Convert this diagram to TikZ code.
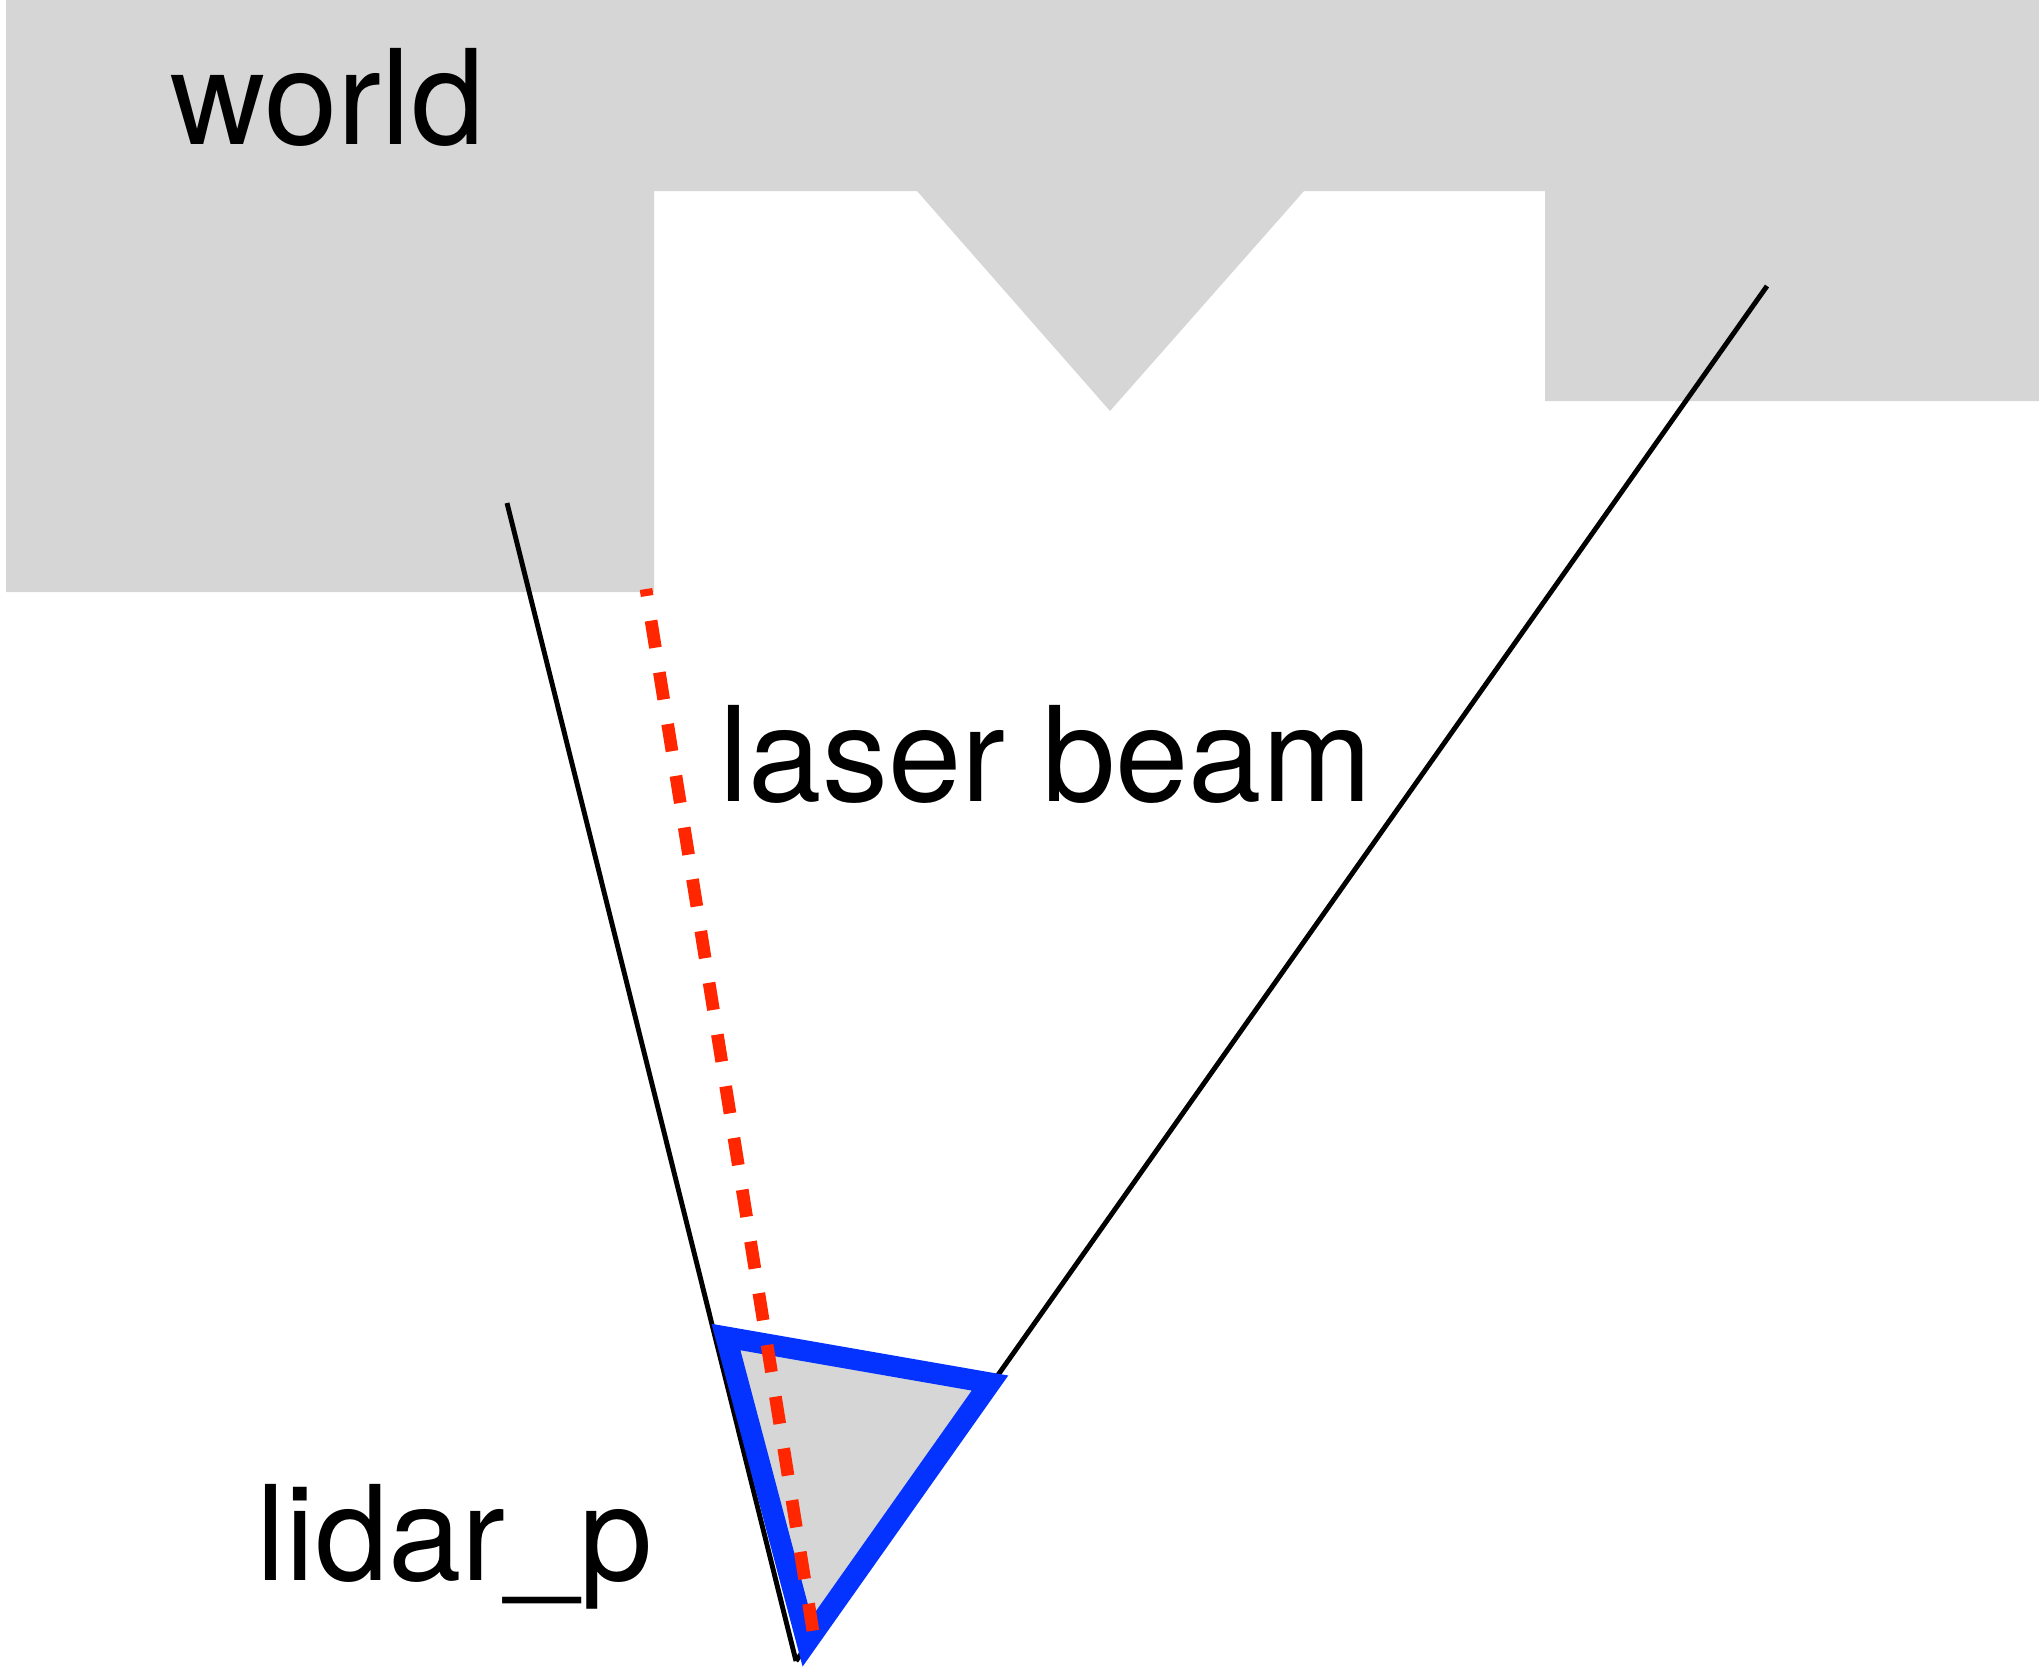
\documentclass[tikz,border=0pt]{standalone}
\usepackage{fontspec}
\setmainfont{TeX Gyre Heros}
\usetikzlibrary{positioning}
\definecolor{worldgray}{RGB}{214,214,214}
\definecolor{lidarblue}{RGB}{4,51,255}
\definecolor{beamred}{RGB}{255,38,0}

\begin{document}
\begin{tikzpicture}[x=0.01cm, y=-0.01cm,
    lbl/.style={inner sep=0pt, anchor=base west, font=\fontsize{37.5}{45}\selectfont},
    fov/.style={line width=1.4pt, draw=black},
    beam/.style={line width=3.6pt, draw=beamred, dash pattern=on 7.8pt off 7.1pt, dash phase=5.8pt},
    sensor/.style={line width=6pt, draw=lidarblue, fill=worldgray, line join=miter}
]
\useasboundingbox (0,0) rectangle (2039,1668);
% world outline
\fill[worldgray] (6,0) -- (2039,0) -- (2039,401) -- (1545,401) -- (1545,191)
    -- (1304,191) -- (1110,411) -- (917,191) -- (654,191) -- (654,592)
    -- (6,592) -- cycle;
\node[lbl] (world) at (170,144) {world};
\node[lbl] (beamlbl) at (719,801) {laser beam};
\node[lbl] (lidarlbl) at (256,1580) {lidar\_p};
% field of view
\coordinate (apex) at (796,1661);
\coordinate (fovL) at (507,503);
\coordinate (fovR) at (1767,286);
\draw[fov] (fovL) -- (apex);
\draw[fov] (fovR) -- (apex);
% sensor
\coordinate (sA) at (726,1337);
\coordinate (sB) at (990,1383);
\coordinate (sC) at (807,1642);
\draw[sensor] (sA) -- (sB) -- (sC) -- cycle;
% beam
\coordinate (hit) at (646,589);
\coordinate (src) at (816,1650);
\draw[beam] (hit) -- (src);
\end{tikzpicture}
\end{document}
